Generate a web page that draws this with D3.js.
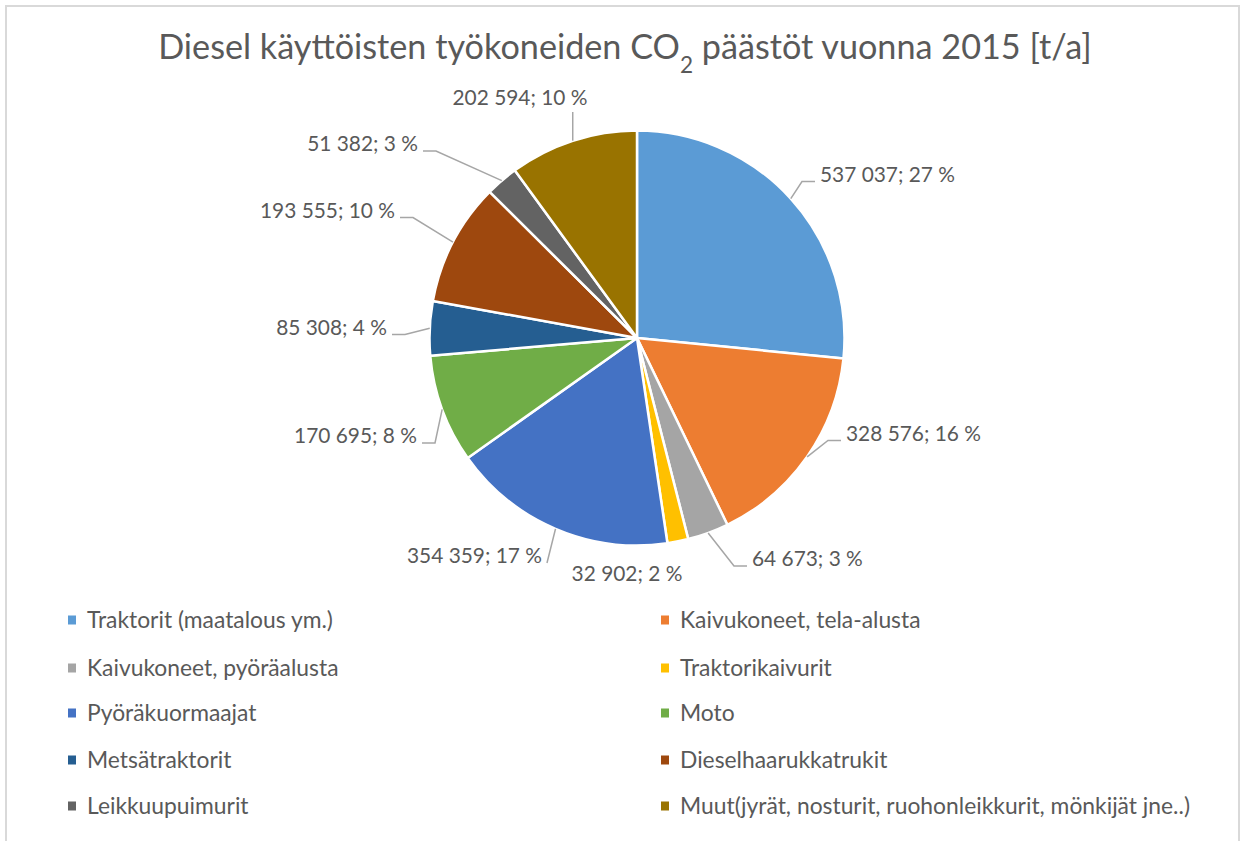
<!DOCTYPE html>
<html><head><meta charset="utf-8">
<script src="https://cdn.jsdelivr.net/npm/d3@7"></script>
<style>
html,body{margin:0;padding:0;background:#fff;}
svg{display:block;font-family:Lato,"Open Sans",sans-serif;}
</style></head>
<body>
<svg id="c" width="1242" height="841"></svg>
<script>
// ---- data ----
const categories = [
  "Traktorit (maatalous ym.)",
  "Kaivukoneet, tela-alusta",
  "Kaivukoneet, pyöräalusta",
  "Traktorikaivurit",
  "Pyöräkuormaajat",
  "Moto",
  "Metsätraktorit",
  "Dieselhaarukkatrukit",
  "Leikkuupuimurit",
  "Muut(jyrät, nosturit, ruohonleikkurit, mönkijät jne..)"
];
const values = [537037, 328576, 64673, 32902, 354359, 170695, 85308, 193555, 51382, 202594];
const percentLabels = ["27 %","16 %","3 %","2 %","17 %","8 %","4 %","10 %","3 %","10 %"];
const colors = ["#5B9BD5","#ED7D31","#A5A5A5","#FFC000","#4472C4","#70AD47","#255E91","#9E480E","#636363","#997300"];
const titleParts = ["Diesel käyttöisten työkoneiden CO", "2", " päästöt vuonna 2015 [t/a]"];

// ---- layout (label placement, like Excel "best fit") ----
const labelLayout = [
  {x:820, y:174.5, anchor:"start"},
  {x:846, y:433.5, anchor:"start"},
  {x:752, y:559,   anchor:"start"},
  {x:627, y:574,   anchor:"middle", noLeader:true},
  {x:542, y:556,   anchor:"end"},
  {x:417, y:436,   anchor:"end"},
  {x:387, y:327.5, anchor:"end"},
  {x:395, y:210.5, anchor:"end"},
  {x:418, y:144,   anchor:"end"},
  {x:520, y:98,    anchor:"middle"}
];

const svg = d3.select("#c");
const textColor = "#595959";
const fmt = v => String(v).replace(/\B(?=(\d{3})+(?!\d))/g, " ");

// border
svg.append("rect").attr("x",6).attr("y",6).attr("width",1233).attr("height",900)
  .attr("fill","#fff").attr("stroke","#d9d9d9").attr("stroke-width",2);

function fit(sel, target){
  const w = sel.node().getComputedTextLength();
  const fs = parseFloat(sel.attr("font-size"));
  return fs * target / w;
}

// title
const title = svg.append("text").attr("x",625).attr("y",59).attr("text-anchor","middle")
  .attr("fill",textColor).attr("font-size",30);
title.append("tspan").text(titleParts[0]);
const sub = title.append("tspan").attr("baseline-shift","sub").attr("font-size",20).text(titleParts[1]);
title.append("tspan").attr("baseline-shift","0").text(titleParts[2]);
const tfs = fit(title, 934);
title.attr("font-size", tfs);
sub.attr("font-size", tfs*0.66);

// pie
const cx = 637, cy = 338, R = 207.5;
const pie = d3.pie().sort(null).value(d => d);
const arcs = pie(values);
const arc = d3.arc().innerRadius(0).outerRadius(R);
const g = svg.append("g").attr("transform",`translate(${cx},${cy})`);
g.selectAll("path").data(arcs).join("path")
  .attr("d", arc).attr("fill",(d,i)=>colors[i])
  .attr("stroke","#fff").attr("stroke-width",2.5).attr("stroke-linejoin","round");

// labels
const lg = svg.append("g");
const labels = lg.selectAll("text.lbl").data(arcs).join("text").attr("class","lbl")
  .attr("x",(d,i)=>labelLayout[i].x).attr("y",(d,i)=>labelLayout[i].y)
  .attr("dy","0.35em").attr("text-anchor",(d,i)=>labelLayout[i].anchor)
  .attr("fill",textColor).attr("font-size",20)
  .text((d,i)=>fmt(values[i]) + "; " + percentLabels[i]);
const lfs = fit(d3.select(labels.nodes()[9]), 135);
labels.attr("font-size", lfs);

// leader lines
const line = d3.line();
arcs.forEach((d,i)=>{
  const L = labelLayout[i];
  if (L.noLeader) return;
  const mid = (d.startAngle + d.endAngle)/2;
  const p = [cx + R*Math.sin(mid), cy - R*Math.cos(mid)];
  let pts;
  if (L.anchor === "middle") {
    pts = [p, [p[0], L.y + 14]];
  } else {
    const a = L.anchor === "start" ? [L.x - 5, L.y + 7] : [L.x + 5, L.y + 7];
    const dx = p[0] - a[0];
    if (Math.abs(dx) < 15) {
      pts = [p, [a[0], a[1]]];
    } else {
      pts = [p, [a[0] + Math.sign(dx)*13, a[1]], a];
    }
  }
  svg.append("path").attr("d", line(pts)).attr("fill","none")
    .attr("stroke","#a6a6a6").attr("stroke-width",1.5);
});

// legend
const rowsY = [620, 668, 713, 760, 806];
const colX = [68, 661];
const leg = svg.append("g");
const items = leg.selectAll("g").data(categories).join("g")
  .attr("transform",(d,i)=>`translate(${colX[i%2]},${rowsY[Math.floor(i/2)]})`);
items.append("rect").attr("x",0).attr("y",-4.5).attr("width",8).attr("height",9)
  .attr("fill",(d,i)=>colors[i]);
const ltexts = items.append("text").attr("x",19).attr("y",0).attr("dy","0.35em")
  .attr("fill",textColor).attr("font-size",20).text(d=>d);
const gfs = fit(d3.select(ltexts.nodes()[0]), 246);
ltexts.attr("font-size", gfs);
</script>
</body></html>
